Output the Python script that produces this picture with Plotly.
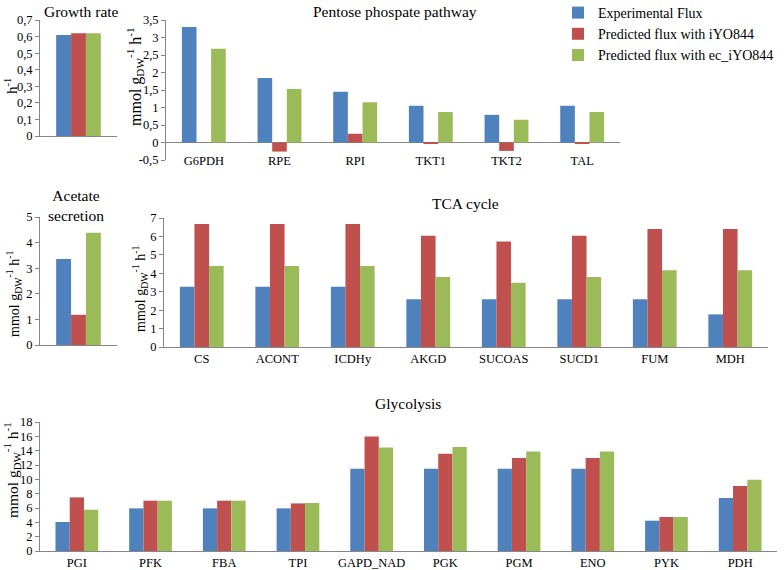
import plotly.graph_objects as go

W, H = 784, 570

series_names = ["Experimental Flux", "Predicted flux with iYO844", "Predicted flux with ec_iYO844"]
colors = ["#4F81BD", "#C0504D", "#9BBB59"]

growth_cats = [""]
growth_exp = [0.61]
growth_ioy = [0.62]
growth_ec = [0.62]

ppp_cats = ["G6PDH", "RPE", "RPI", "TKT1", "TKT2", "TAL"]
ppp_exp = [3.30, 1.84, 1.45, 1.05, 0.79, 1.05]
ppp_ioy = [0.0, -0.26, 0.25, -0.02, -0.24, -0.02]
ppp_ec = [2.68, 1.53, 1.15, 0.87, 0.65, 0.87]
ppp_tickvals = [-0.5, 0, 0.5, 1, 1.5, 2, 2.5, 3, 3.5]
ppp_ticktext = ["-0,5", "0", "0,5", "1", "1,5", "2", "2,5", "3", "3,5"]

ace_cats = [""]
ace_exp = [3.36]
ace_ioy = [1.18]
ace_ec = [4.38]

tca_cats = ["CS", "ACONT", "ICDHy", "AKGD", "SUCOAS", "SUCD1", "FUM", "MDH"]
tca_exp = [3.27, 3.27, 3.27, 2.59, 2.59, 2.59, 2.59, 1.77]
tca_ioy = [6.68, 6.68, 6.68, 6.04, 5.73, 6.04, 6.40, 6.40]
tca_ec = [4.40, 4.40, 4.40, 3.80, 3.49, 3.80, 4.17, 4.17]

gly_cats = ["PGI", "PFK", "FBA", "TPI", "GAPD_NAD", "PGK", "PGM", "ENO", "PYK", "PDH"]
gly_exp = [4.05, 5.95, 5.95, 5.95, 11.48, 11.48, 11.48, 11.48, 4.23, 7.40]
gly_ioy = [7.48, 7.02, 7.02, 6.64, 15.98, 13.57, 12.97, 12.97, 4.74, 9.07]
gly_ec = [5.76, 7.02, 7.02, 6.70, 14.45, 14.50, 13.90, 13.90, 4.74, 9.95]

FONT = "Liberation Serif"
AXC = "#868686"
UNIT = "mmol g<sub>DW</sub><sup>-1</sup> h<sup>-1</sup>"


def px_x(p):
    return p / W


def px_y(p):
    return 1 - p / H


panels = [
    # cats, data, x px, y px, y range, dtick, (y title, x, y, size)
    (growth_cats, [growth_exp, growth_ioy, growth_ec], (40, 117), (20, 136), [0, 0.7], 0.1, ("h<sup>-1</sup>", 11, 86, 15)),
    (ppp_cats, [ppp_exp, ppp_ioy, ppp_ec], (166, 620), (20, 160), [-0.5, 3.5], 0.5, (UNIT, 135, 77, 16)),
    (ace_cats, [ace_exp, ace_ioy, ace_ec], (40, 117), (217, 345), [0, 5], 1, (UNIT, 14, 294, 14)),
    (tca_cats, [tca_exp, tca_ioy, tca_ec], (164, 768), (218, 347), [0, 7], 1, (UNIT, 140, 289, 14)),
    (gly_cats, [gly_exp, gly_ioy, gly_ec], (40, 777), (422, 551), [0, 18], 2, (UNIT, 12, 470, 15.5)),
]

fig = go.Figure()
layout = {}
annotations = []
for i, (cats, data, xr, yr, yrange, dt, ytitle) in enumerate(panels):
    n = "" if i == 0 else str(i + 1)
    for s in range(3):
        fig.add_trace(go.Bar(
            x=cats, y=data[s], name=series_names[s], marker_color=colors[s],
            marker_line_width=0, xaxis="x" + n, yaxis="y" + n,
            showlegend=(i == 1),
        ))
    ppp = (i == 1)
    xa = dict(
        domain=[px_x(xr[0]), px_x(xr[1])], anchor="y" + n,
        showline=not ppp, linecolor=AXC, linewidth=1,
        ticks="", showgrid=False, zeroline=False, automargin=False,
        tickfont=dict(size=12.5, color="#000", family=FONT),
        type="category",
    )
    if ppp:
        xa["anchor"] = "free"
        xa["position"] = px_y(151)
    layout["xaxis" + n] = xa
    ya = dict(
        domain=[px_y(yr[1]), px_y(yr[0])], anchor="x" + n,
        range=yrange, showline=True, linecolor=AXC, linewidth=1,
        ticks="outside", ticklen=4, tickcolor=AXC, showgrid=False,
        zeroline=ppp, zerolinecolor=AXC, zerolinewidth=1, automargin=False,
        tickfont=dict(size=12.5, color="#000", family=FONT),
    )
    if ppp:
        ya["tickvals"] = ppp_tickvals
        ya["ticktext"] = ppp_ticktext
    else:
        ya["dtick"] = dt
        ya["tick0"] = 0
    layout["yaxis" + n] = ya
    t, tx, ty, ts = ytitle
    annotations.append(dict(
        text=t, x=px_x(tx), y=px_y(ty), xref="paper", yref="paper", showarrow=False,
        textangle=-90, xanchor="center", yanchor="middle",
        font=dict(size=ts, color="#000", family=FONT)))

titles = [
    ("Growth rate", 81, 12),
    ("Pentose phospate pathway", 395, 12),
    ("Acetate<br>secretion", 76, 205),
    ("TCA cycle", 465, 203),
    ("Glycolysis", 408, 403),
]
annotations += [
    dict(text=t, x=px_x(x), y=px_y(y), xref="paper", yref="paper", showarrow=False,
         xanchor="center", yanchor="middle", font=dict(size=15.5, color="#000", family=FONT))
    for t, x, y in titles
]

fig.update_layout(
    width=W, height=H, margin=dict(l=0, r=0, t=0, b=0, autoexpand=False),
    paper_bgcolor="white", plot_bgcolor="white",
    separators=",.", barmode="group", bargap=0.42, bargroupgap=0,
    font=dict(family=FONT, color="#000"),
    legend=dict(x=px_x(558), y=px_y(-3), xanchor="left", yanchor="top",
                font=dict(size=14, family=FONT, color="#000"),
                bgcolor="rgba(0,0,0,0)", itemwidth=30, tracegroupgap=0),
    annotations=annotations,
    **layout,
)

fig.write_html("out.html", config={"displayModeBar": False},
               post_script="document.body.style.margin='0';")
